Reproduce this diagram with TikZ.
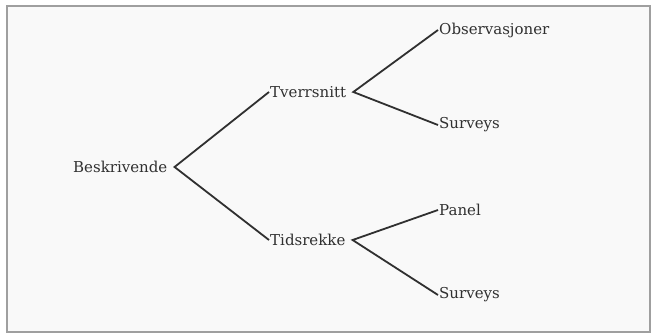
\documentclass[tikz,border=0pt]{standalone}
\usepackage{fontspec}
\setmainfont{DejaVu Serif}
\definecolor{ink}{HTML}{303030}
\begin{document}
\begin{tikzpicture}[x=1pt,y=-1pt,
  lbl/.style={anchor=west,inner xsep=1pt,inner ysep=0pt,text=ink,font=\fontsize{15}{17}\selectfont},
  branch/.style={draw=ink,line width=1.8pt}]
\useasboundingbox (0,0) rectangle (653,334);
\draw[gray!75,fill=gray!5,line width=1.6pt] (7,6) rectangle (650,332);
\node[lbl] (besk) at (72,167) {Beskrivende};
\node[lbl] (tverr) at (269,92) {Tverrsnitt};
\node[lbl] (tids) at (269,240) {Tidsrekke};
\node[lbl] (obs) at (438,30) {Observasjoner};
\node[lbl] (surv1) at (438,125) {Surveys};
\node[lbl] (panel) at (438,210) {Panel};
\node[lbl] (surv2) at (438,295) {Surveys};
\draw[branch] (tverr.west) -- ([xshift=6pt]besk.east) -- (tids.west);
\draw[branch] (obs.west) -- ([xshift=6pt]tverr.east) -- (surv1.west);
\draw[branch] (panel.west) -- ([xshift=6pt]tids.east) -- (surv2.west);
\end{tikzpicture}
\end{document}
